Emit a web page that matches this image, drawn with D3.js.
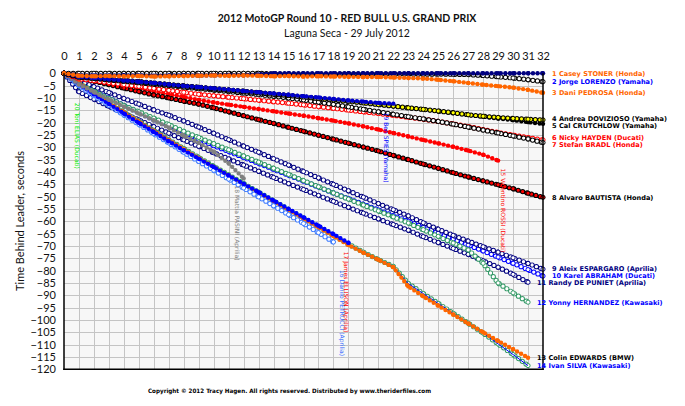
<!DOCTYPE html>
<html><head><meta charset="utf-8">
<script src="https://cdn.jsdelivr.net/npm/d3@7"></script>
<style>body{margin:0;background:#fff}svg{display:block}</style>
</head><body>
<svg id="chart" width="685" height="406"></svg>
<script>
// ---------------- DATA ----------------
const lapTicks = d3.range(0, 33);
const gapTicks = d3.range(0, -121, -5);

const riderLabels = [
  "1 Casey STONER (Honda)", "2 Jorge LORENZO (Yamaha)", "3 Dani PEDROSA (Honda)",
  "4 Andrea DOVIZIOSO (Yamaha)", "5 Cal CRUTCHLOW (Yamaha)", "6 Nicky HAYDEN (Ducati)",
  "7 Stefan BRADL (Honda)", "8 Alvaro BAUTISTA (Honda)", "9 Aleix ESPARGARO (Aprilia)",
  "10 Karel ABRAHAM (Ducati)", "11 Randy DE PUNIET (Aprilia)", "12 Yonny HERNANDEZ (Kawasaki)",
  "13 Colin EDWARDS (BMW)", "14 Ivan SILVA (Kawasaki)", "15 Valentino ROSSI (Ducati)",
  "16 Danilo PETRUCCI (Aprilia)", "17 James ELLISON (Aprilia)", "18 Mattia PASINI (Aprilia)",
  "19 Ben SPIES (Yamaha)", "20 Toni ELIAS (Ducati)"
];

const gapStoner    = [0,-0.8,-0.9,-0.9,-0.8,-0.9,-1.0,-0.9,-0.8,-0.9,-0.8,-0.7,-0.8,-0.5,0,0,0,0,0,0,0,0,0,0,0,0,0,0,0,0,0,0,0];
const gapLorenzo   = [0,0,0,0,0,0,0,0,0,0,0,0,0,0,-0.3,-0.4,-0.4,-0.5,-0.4,-0.3,-0.4,-0.3,-0.4,-0.3,-0.4,-0.3,-0.4,-0.5,-0.9,-1.4,-1.9,-2.6,-3.4];
const gapPedrosa   = [0,-1.0,-1.2,-1.1,-1.2,-1.1,-1.3,-1.2,-1.1,-1.0,-0.9,-1.0,-0.9,-1.0,-1.2,-1.1,-1.3,-1.2,-1.3,-1.4,-1.5,-1.5,-1.7,-1.9,-2.1,-2.6,-3.2,-3.9,-4.6,-5.2,-5.8,-6.7,-7.9];
const gapDovizioso = [0,-1.5,-1.9,-2.4,-2.9,-3.4,-4.0,-4.6,-5.1,-5.7,-6.3,-6.8,-7.4,-7.9,-8.5,-9.0,-9.6,-10.2,-10.8,-11.4,-12.0,-12.7,-13.3,-14.0,-14.6,-15.3,-16.0,-16.8,-17.4,-17.9,-18.3,-18.6,-18.9];
const gapCrutchlow = [0,-1.3,-1.8,-2.3,-2.8,-3.3,-3.9,-4.4,-5.0,-5.5,-6.0,-6.6,-7.1,-7.7,-8.3,-8.9,-9.5,-10.1,-10.7,-11.3,-11.9,-12.6,-13.3,-14.0,-14.7,-15.4,-16.1,-16.9,-17.6,-18.3,-19.0,-19.8,-20.5];
const gapHayden    = [0,-2.2,-3.0,-3.8,-4.6,-5.3,-6.1,-6.9,-7.7,-8.5,-9.1,-9.7,-10.3,-10.9,-11.5,-12.1,-12.8,-13.5,-14.2,-14.9,-15.6,-16.3,-17.0,-17.8,-18.6,-19.5,-20.5,-21.6,-22.8,-24.0,-25.1,-26.1,-27.0];
const gapBradl     = [0,-1.6,-2.1,-2.7,-3.2,-3.8,-4.4,-5.0,-5.6,-6.2,-6.8,-7.4,-8.0,-8.6,-9.3,-10.0,-10.8,-11.7,-12.6,-13.6,-14.6,-15.6,-16.6,-17.6,-18.5,-19.5,-20.6,-21.8,-23.0,-24.2,-25.4,-26.6,-28.1];
const gapBautista  = [0,-1.8,-3.2,-4.6,-6.0,-7.4,-8.8,-10.0,-11.3,-12.5,-14.0,-15.6,-17.2,-18.8,-20.3,-21.9,-23.5,-25.1,-26.7,-28.3,-29.9,-31.5,-33.3,-35.0,-36.8,-38.5,-40.3,-42.0,-43.6,-45.2,-46.8,-48.6,-50.3];
const gapEspargaro = [0,-3.0,-5.4,-7.8,-10.2,-12.5,-14.8,-17.0,-19.3,-21.8,-24.3,-26.9,-29.5,-32.0,-34.6,-37.2,-39.8,-42.4,-45.0,-47.6,-50.2,-52.8,-55.3,-57.8,-60.6,-63.2,-65.7,-68.0,-70.3,-72.5,-74.8,-77.1,-79.4];
const gapAbraham   = [0,-3.8,-7.0,-10.1,-13.0,-15.9,-18.8,-21.6,-24.3,-26.8,-29.3,-31.7,-34.1,-36.5,-38.9,-41.3,-43.7,-46.1,-48.5,-50.8,-53.1,-55.4,-57.7,-60.0,-62.4,-64.8,-67.2,-69.6,-72.0,-74.5,-77.0,-79.6,-82.2];
const gapDePuniet  = [0,-7.5,-10.5,-13.4,-16.2,-18.9,-21.6,-24.3,-27.0,-29.6,-32.2,-34.7,-37.2,-39.7,-42.2,-44.7,-47.1,-49.5,-51.9,-54.3,-56.7,-59.0,-61.3,-63.6,-66.2,-68.6,-71.0,-73.4,-76.0,-78.6,-81.5,-84.7];
const gapHernandez = [0,-4.2,-7.3,-10.2,-13.0,-15.6,-18.2,-20.8,-23.5,-26.0,-28.5,-31.0,-33.5,-36.0,-38.5,-41.0,-43.5,-46.0,-48.5,-51.0,-53.4,-55.8,-58.2,-60.7,-63.4,-66.1,-68.8,-71.6,-77.0,-85.0,-89.0,-92.8];
const gapEdwards   = [0,-4.0,-8.0,-11.9,-15.8,-19.6,-23.4,-27.1,-30.8,-34.4,-38.0,-41.5,-45.0,-48.5,-52.0,-55.5,-59.0,-62.5,-66.0,-69.6,-72.7,-75.6,-78.6,-86.4,-90.4,-94.2,-97.8,-101.4,-105.0,-108.5,-111.9,-115.3];
const gapSilva     = [0,-4.2,-8.2,-12.0,-15.8,-19.5,-23.2,-26.9,-30.5,-34.1,-37.7,-41.2,-44.7,-48.2,-51.7,-55.2,-58.7,-62.2,-65.7,-69.2,-72.5,-75.5,-78.3,-85.2,-89.3,-93.3,-97.3,-101.3,-105.3,-109.7,-114.0,-118.5];
const gapRossi     = [0,-1.4,-2.6,-3.8,-5.0,-6.2,-7.4,-8.5,-9.6,-10.8,-11.8,-12.7,-13.6,-14.5,-15.4,-16.3,-17.2,-18.2,-19.2,-20.3,-21.5,-22.8,-24.2,-25.6,-27.0,-28.4,-29.8,-31.3,-33.0,-35.4];
const gapPetrucci  = [0,-5.0,-9.1,-13.0,-16.9,-20.7,-24.5,-28.2,-32.0,-35.7,-39.3,-42.9,-46.5,-50.1,-53.7,-57.3,-60.9,-64.6,-68.4];
const gapEllison   = [0,-4.5,-8.5,-12.4,-16.3,-20.1,-23.8,-27.6,-31.2,-34.6,-38.0,-41.4,-44.8,-48.2,-51.6,-55.0,-58.4,-61.8,-65.2,-68.7];
const gapPasini    = [0,-4.5,-7.6,-10.6,-13.5,-16.3,-19.1,-22.0,-25.3,-28.2,-31.8,-36.5,-42.6];
const gapSpies     = [0,-1.4,-1.9,-2.4,-2.9,-3.4,-3.9,-4.5,-5.1,-5.6,-6.1,-6.6,-7.2,-7.7,-8.2,-8.7,-9.3,-9.8,-10.4,-11.0,-11.5,-12.0,-12.3];
const gapElias     = [0,-5.5];

const seriesGaps = [gapStoner,gapLorenzo,gapPedrosa,gapDovizioso,gapCrutchlow,gapHayden,gapBradl,gapBautista,
  gapEspargaro,gapAbraham,gapDePuniet,gapHernandez,gapEdwards,gapSilva,gapRossi,gapPetrucci,gapEllison,gapPasini,gapSpies,gapElias];

// ---------------- STYLE ----------------
const NAVY="#000080", BLUE="#0000ff", ORANGE="#ff6600", RED="#ff0000", TEAL="#339966";
const markStyle = [
  {kind:"filled", c:NAVY},
  {kind:"hollow", c:"#000"},
  {kind:"filled", c:ORANGE},
  {kind:"outlined", c:"#000", f:"#ffff00"},
  {kind:"filled", c:"#000"},
  {kind:"hollow", c:RED},
  {kind:"hollow", c:"#000"},
  {kind:"outlined", c:"#000", f:RED},
  {kind:"hollow", c:NAVY},
  {kind:"hollow", c:BLUE},
  {kind:"hollow", c:NAVY},
  {kind:"hollow", c:TEAL},
  {kind:"filled", c:ORANGE},
  {kind:"hollow", c:TEAL, line:BLUE},
  {kind:"filled", c:RED},
  {kind:"hollow", c:"#3d7bff"},
  {kind:"filled", c:BLUE},
  {kind:"filled", c:"#808080"},
  {kind:"filled", c:"#0000cc"},
  {kind:"hollow", c:"#00dd00"}
];
const labelColor = [ORANGE,BLUE,ORANGE,"#000","#000",RED,RED,"#000",NAVY,BLUE,NAVY,BLUE,"#000",BLUE,
  RED,"#3366ff",RED,"#808080",BLUE,"#00ee00"];
const drawOrder = [19,10,9,8,11,13,12,15,16,17,14,7,5,6,4,3,18,1,0,2];
const vOffset = {14:[5,8],15:[9,28],16:[-2,9],17:[-7,7],18:[-7,9],19:[-2,16]};

// ---------------- CHART ----------------
const svg = d3.select("#chart");
const x = d3.scaleLinear().domain([0,32]).range([64,543]);
const y = d3.scaleLinear().domain([0,-120]).range([73.3,369.3]);

const FONT = "Lato, 'Open Sans', sans-serif";
const SMALL = "'DejaVu Sans', Verdana, sans-serif";

svg.append("text").attr("x",347).attr("y",22).attr("text-anchor","middle")
  .attr("font-family",FONT).attr("font-weight","bold").attr("font-size",10.5).attr("fill","#111")
  .text("2012 MotoGP Round 10 - RED BULL U.S. GRAND PRIX");
svg.append("text").attr("x",347).attr("y",37).attr("text-anchor","middle")
  .attr("font-family",FONT).attr("font-size",10.5).attr("fill","#111")
  .text("Laguna Seca - 29 July 2012");

svg.append("rect").attr("x",x(0)).attr("y",y(0)).attr("width",x(32)-x(0)).attr("height",y(-120)-y(0))
  .attr("fill","#f7f7f7");

const grid = svg.append("g").attr("stroke","#c4c4c4").attr("stroke-width",1).attr("shape-rendering","crispEdges");
grid.selectAll(".gv").data(lapTicks.filter(d=>d>0&&d<32)).join("line")
  .attr("x1",d=>Math.round(x(d))+0.5).attr("x2",d=>Math.round(x(d))+0.5).attr("y1",y(0)).attr("y2",y(-120));
grid.selectAll(".gh").data(gapTicks.filter(d=>d<0&&d>-120)).join("line")
  .attr("x1",x(0)).attr("x2",x(32)).attr("y1",d=>Math.round(y(d))+0.5).attr("y2",d=>Math.round(y(d))+0.5);

const xAxis = d3.axisTop(x).tickValues(lapTicks).tickSize(0).tickPadding(0).tickFormat(d3.format("d"));
const gx = svg.append("g").attr("transform",`translate(0,${y(0)-13})`).call(xAxis);
gx.select(".domain").remove();
gx.selectAll("text").attr("font-family",FONT).attr("font-size",11).attr("fill","#111");

const yAxis = d3.axisLeft(y).tickValues(gapTicks).tickSize(0).tickPadding(0).tickFormat(d3.format("d"));
const gy = svg.append("g").attr("transform",`translate(${x(0)-8},0)`).call(yAxis);
gy.select(".domain").remove();
gy.selectAll("text").attr("font-family",FONT).attr("font-size",11).attr("fill","#111");

svg.append("text").attr("transform",`translate(24,${221}) rotate(-90)`).attr("text-anchor","middle")
  .attr("font-family",FONT).attr("font-size",11).attr("fill","#111").text("Time Behind Leader, seconds");

// series: lines with a chain of markers
const line = d3.line().x((d,i)=>x(i)).y(d=>y(d));
const sg = svg.append("g");
const DASH = "0 4.6";
drawOrder.forEach(idx=>{
  const vals = seriesGaps[idx], st = markStyle[idx];
  const g = sg.append("g");
  const lc = st.line || st.c;
  g.append("path").attr("d",line(vals)).attr("fill","none").attr("stroke",lc).attr("stroke-width",1);
  g.append("path").attr("d",line(vals)).attr("fill","none").attr("stroke",st.c)
    .attr("stroke-width",st.kind==="filled"?4.4:5.2).attr("stroke-linecap","round")
    .attr("stroke-linejoin","round").attr("stroke-dasharray",DASH);
  if (st.kind!=="filled") {
    g.append("path").attr("d",line(vals)).attr("fill","none")
      .attr("stroke",st.kind==="hollow"?"#fff":st.f)
      .attr("stroke-width",st.kind==="hollow"?3.3:3.2).attr("stroke-linecap","round")
      .attr("stroke-linejoin","round").attr("stroke-dasharray",DASH);
  }
  g.selectAll("circle").data(vals).join("circle")
    .attr("cx",(d,i)=>x(i)).attr("cy",d=>y(d)).attr("r",st.kind==="filled"?2.2:2.1)
    .attr("fill",st.kind==="filled"?st.c:(st.kind==="hollow"?"#fff":st.f))
    .attr("stroke",st.kind==="filled"?"none":st.c).attr("stroke-width",1);
  if (st.line) {
    g.append("path").attr("d",line(vals)).attr("fill","none").attr("stroke",st.line).attr("stroke-width",1);
  }
});

// borders
const bd = svg.append("g").attr("stroke","#000").attr("stroke-width",1.5);
bd.append("line").attr("x1",x(0)).attr("x2",x(0)).attr("y1",y(0)).attr("y2",y(-120)+0.75);
bd.append("line").attr("x1",x(0)-0.75).attr("x2",x(32)+0.75).attr("y1",y(-120)).attr("y2",y(-120));
bd.append("line").attr("x1",x(32)).attr("x2",x(32)).attr("y1",y(0)).attr("y2",y(-120)+0.75);

// right labels for finishers: y from last value, spread so they do not collide
const fin = seriesGaps.slice(0,14).map((vals,idx)=>({idx, last:vals.length-1, ly:y(vals[vals.length-1])}));
const MIN_GAP = 7;
for (let k=0;k<6;k++){
  for (let i=1;i<fin.length;i++){
    const a=fin[i-1], b=fin[i];
    const d = b.ly - a.ly;
    if (d < MIN_GAP){ const s=(MIN_GAP-d)/2; a.ly-=s; b.ly+=s; }
  }
}
fin.forEach(f=>{
  svg.append("text").attr("x",x(f.last)+9).attr("y",f.ly).attr("dy","0.35em")
    .attr("font-family",SMALL).attr("font-size",6.6).attr("font-weight","bold")
    .attr("fill",labelColor[f.idx]).text(riderLabels[f.idx]);
});
// vertical labels for retired riders
seriesGaps.forEach((vals,idx)=>{
  if (idx<14) return;
  const last = vals.length-1, off = vOffset[idx];
  svg.append("text").attr("transform",`translate(${x(last)+off[0]},${y(vals[last])+off[1]}) rotate(90)`)
    .attr("dy","0.35em").attr("font-family",SMALL).attr("font-size",6)
    .attr("fill",labelColor[idx]).text(riderLabels[idx]);
});

svg.append("text").attr("x",148).attr("y",393).attr("font-family",SMALL).attr("font-size",6)
  .attr("font-weight","bold").attr("fill","#000").attr("textLength",283).attr("lengthAdjust","spacingAndGlyphs")
  .text("Copyright \u00a9 2012 Tracy Hagen.  All rights reserved.  Distributed by www.theriderfiles.com");
</script>
</body></html>
